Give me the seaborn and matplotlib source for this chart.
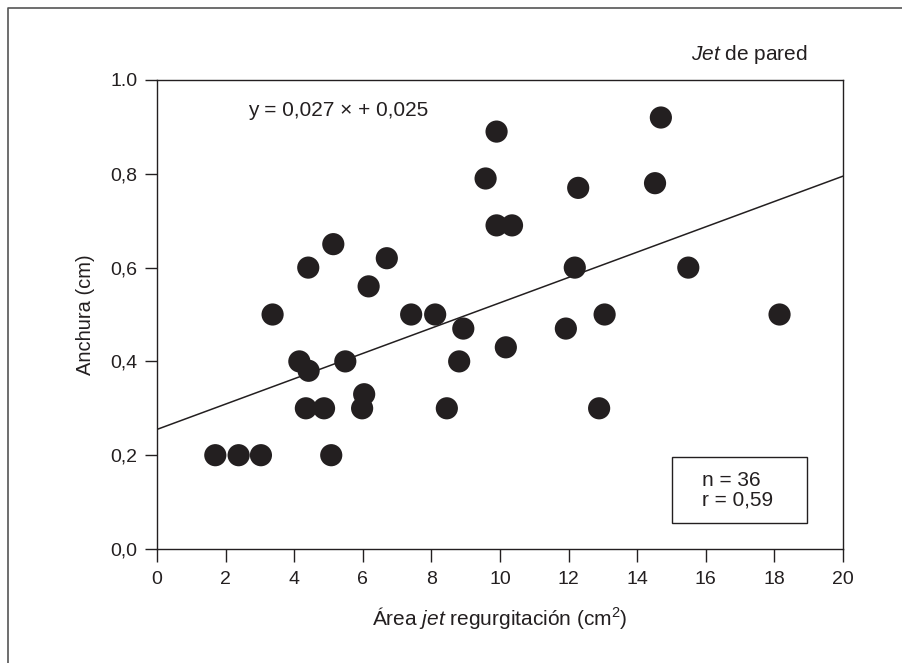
import numpy as np
import pandas as pd
import matplotlib
matplotlib.use("Agg")
import matplotlib.pyplot as plt
import seaborn as sns
from matplotlib.patches import Rectangle
from matplotlib.lines import Line2D

# ---- data ----
area = [1.70, 2.38, 3.03, 5.08, 4.34, 4.87, 5.98, 8.45, 12.89, 6.04,
        4.15, 4.42, 5.49, 8.81, 10.17, 11.92, 8.93, 3.37, 7.41, 8.11,
        13.05, 18.15, 6.17, 4.41, 12.18, 15.49, 6.70, 5.14, 9.90, 10.35,
        12.28, 14.52, 9.58, 9.90, 14.69]
anchura = [0.20, 0.20, 0.20, 0.20, 0.30, 0.30, 0.30, 0.30, 0.30, 0.33,
           0.40, 0.38, 0.40, 0.40, 0.43, 0.47, 0.47, 0.50, 0.50, 0.50,
           0.50, 0.50, 0.56, 0.60, 0.60, 0.60, 0.62, 0.65, 0.69, 0.69,
           0.77, 0.78, 0.79, 0.89, 0.92]
line_slope = 0.027
line_intercept = 0.255
x_ticks = [0, 2, 4, 6, 8, 10, 12, 14, 16, 18, 20]
y_ticks = [0.0, 0.2, 0.4, 0.6, 0.8, 1.0]
y_ticklabels = ["0,0", "0,2", "0,4", "0,6", "0,8", "1.0"]
stats_text = "n = 36\nr = 0,59"
equation_text = "y = 0,027 × + 0,025"

sns.set_theme(style="ticks")
plt.rcParams['font.family'] = ['Liberation Sans', 'DejaVu Sans']
plt.rcParams['mathtext.fontset'] = 'custom'
plt.rcParams['mathtext.rm'] = 'Liberation Sans'
plt.rcParams['mathtext.it'] = 'Liberation Sans:italic'
plt.rcParams['mathtext.bf'] = 'Liberation Sans:bold'

ink = '#231f20'
fs_tick = 14
fs = 15

fig = plt.figure(figsize=(9.03, 6.63), dpi=100)
ax = fig.add_axes([157/903, 1-549/663, (843-157)/903, (549-80)/663])

df = pd.DataFrame({"area": area, "anchura": anchura})
sns.scatterplot(data=df, x="area", y="anchura", ax=ax, s=255,
                color=ink, edgecolor='none', linewidth=0, zorder=3)

ax.set_xlim(0, 20)
ax.set_ylim(0, 1.0)
xl = np.array(ax.get_xlim())
ax.plot(xl, line_intercept + line_slope * xl, color=ink, lw=1.1, zorder=2)

ax.set_xticks(x_ticks)
ax.set_xticklabels([str(t) for t in x_ticks])
ax.set_yticks(y_ticks)
ax.set_yticklabels(y_ticklabels)
ax.tick_params(axis='both', direction='out', length=9, width=1.0,
               color=ink, labelcolor=ink, labelsize=fs_tick)
ax.tick_params(axis='x', pad=7)
ax.tick_params(axis='y', pad=5)
for sp in ax.spines.values():
    sp.set_visible(True)
    sp.set_color(ink)
    sp.set_linewidth(1.0)

ax.set_xlabel(r"Área $\it{jet}$ regurgitación (cm$^{2}$)", fontsize=fs,
              color=ink, labelpad=12)
ax.set_ylabel("Anchura (cm)", fontsize=14.5, color=ink, labelpad=11)

fig.text(248/903, 1-111/663, equation_text, fontsize=fs, color=ink,
         ha='left', va='center')
fig.text(808/903, 1-55/663, r"$\it{Jet}$ de pared", fontsize=fs,
         color=ink, ha='right', va='center')

ax.add_patch(Rectangle((15.0, 0.056), 3.94, 0.14, fill=False,
                       edgecolor=ink, lw=1.0, zorder=4))
ax.text(15.9, 0.125, stats_text, fontsize=fs, color=ink, ha='left',
        va='center', linespacing=1.05, zorder=5)

# outer frame (top and left)
fx = 8/903
fy = 1 - 8/663
fig.add_artist(Line2D([fx, fx, 1.0], [0.0, fy, fy], transform=fig.transFigure,
                      color='#555555', lw=1.2))

fig.savefig("out.png", dpi=100)
